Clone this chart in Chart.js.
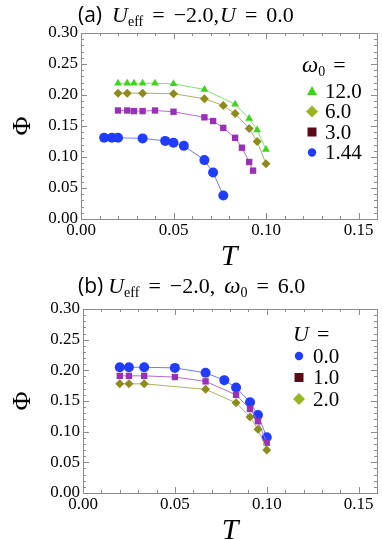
<!DOCTYPE html>
<html>
<head>
<meta charset="utf-8">
<script src="https://cdn.jsdelivr.net/npm/chart.js@4.4.1/dist/chart.umd.min.js"></script>
<style>
  body { margin: 0; background: #fff; }
  .panel { position: relative; width: 382px; }
</style>
</head>
<body>
<div class="panel" style="height:265px"><canvas id="top"></canvas></div>
<div class="panel" style="height:274px"><canvas id="bottom"></canvas></div>
<script>
// panel (a): omega0 series
const tA_w12 = [0.02, 0.025, 0.0286, 0.0333, 0.04, 0.05, 0.0667, 0.0833, 0.0909, 0.0952, 0.1];
const phiA_w12 = [0.219, 0.219, 0.219, 0.219, 0.219, 0.218, 0.209, 0.185, 0.162, 0.1435, 0.112];
const tA_w6 = [0.02, 0.025, 0.0333, 0.05, 0.0667, 0.0769, 0.0833, 0.0909, 0.0952, 0.1];
const phiA_w6 = [0.203, 0.203, 0.203, 0.202, 0.194, 0.183, 0.170, 0.146, 0.125, 0.089];
const tA_w3 = [0.02, 0.025, 0.0286, 0.0333, 0.04, 0.05, 0.0667, 0.0714, 0.0769, 0.0833, 0.087, 0.0909, 0.093];
const phiA_w3 = [0.175, 0.175, 0.174, 0.174, 0.175, 0.173, 0.164, 0.158, 0.147, 0.131, 0.115, 0.092, 0.078];
const tA_w144 = [0.0125, 0.0167, 0.02, 0.0333, 0.0455, 0.05, 0.0556, 0.0667, 0.0714, 0.0769];
const phiA_w144 = [0.131, 0.131, 0.131, 0.130, 0.126, 0.123, 0.118, 0.095, 0.075, 0.038];
const legendA = ['12.0', '6.0', '3.0', '1.44'];

// panel (b): U series
const tB_u0 = [0.02, 0.025, 0.0333, 0.05, 0.0667, 0.0769, 0.0833, 0.0909, 0.0952, 0.1];
const phiB_u0 = [0.205, 0.205, 0.205, 0.204, 0.196, 0.184, 0.172, 0.148, 0.127, 0.091];
const tB_u1 = [0.02, 0.025, 0.0333, 0.05, 0.0667, 0.0833, 0.0909, 0.0952, 0.1];
const phiB_u1 = [0.191, 0.191, 0.191, 0.189, 0.182, 0.160, 0.137, 0.117, 0.082];
const tB_u2 = [0.02, 0.025, 0.0333, 0.0667, 0.0833, 0.0909, 0.0952, 0.1];
const phiB_u2 = [0.178, 0.178, 0.178, 0.169, 0.147, 0.124, 0.104, 0.070];
const legendB = ['0.0', '1.0', '2.0'];

const xTicks = [0, 0.05, 0.1, 0.15];
const yTicks = [0, 0.05, 0.1, 0.15, 0.2, 0.25, 0.3];

const SERIF = '"Liberation Serif", "DejaVu Serif", serif';

function pts(xs, ys) {
  return xs.map((x, i) => ({ x: x, y: ys[i] }));
}

function series(xs, ys, style, fill, line, r) {
  return {
    data: pts(xs, ys),
    showLine: true,
    borderColor: line,
    borderWidth: 1,
    pointStyle: style,
    pointRadius: r,
    pointBackgroundColor: fill,
    pointBorderColor: fill,
    pointBorderWidth: 0,
  };
}

function drawMarker(ctx, style, x, y, color) {
  ctx.fillStyle = color;
  ctx.beginPath();
  if (style === 'circle') {
    ctx.arc(x, y, 4.2, 0, Math.PI * 2);
  } else if (style === 'rect') {
    ctx.rect(x - 4.5, y - 4.5, 9, 9);
  } else if (style === 'rectRot') {
    ctx.moveTo(x, y - 6); ctx.lineTo(x + 6, y); ctx.lineTo(x, y + 6); ctx.lineTo(x - 6, y);
  } else {
    ctx.moveTo(x, y - 5); ctx.lineTo(x + 5, y + 4); ctx.lineTo(x - 5, y + 4);
  }
  ctx.closePath();
  ctx.fill();
}

// frame with inward ticks on all four sides
const framePlugin = {
  id: 'frame',
  beforeDatasetsDraw(chart) {
    const { ctx, chartArea: a, scales } = chart;
    ctx.save();
    ctx.strokeStyle = '#8c8c8c';
    ctx.lineWidth = 1;
    ctx.strokeRect(a.left + 0.5, a.top + 0.5, a.right - a.left, a.bottom - a.top);
    ctx.beginPath();
    for (let i = 0; i <= 16; i++) {
      const px = Math.round(scales.x.getPixelForValue(i / 100)) + 0.5;
      const len = i % 5 === 0 ? 6 : 3;
      ctx.moveTo(px, a.bottom); ctx.lineTo(px, a.bottom - len);
      ctx.moveTo(px, a.top); ctx.lineTo(px, a.top + len);
    }
    for (let i = 0; i <= 30; i++) {
      const py = Math.round(scales.y.getPixelForValue(i / 100)) + 0.5;
      const len = i % 5 === 0 ? 6 : 3;
      ctx.moveTo(a.left, py); ctx.lineTo(a.left + len, py);
      ctx.moveTo(a.right, py); ctx.lineTo(a.right - len, py);
    }
    ctx.stroke();
    ctx.restore();
  }
};

function drawRich(ctx, parts, x, y) {
  for (const p of parts) {
    ctx.font = p.f;
    ctx.fillText(p.t, x, y + (p.dy || 0));
    x += ctx.measureText(p.t).width + (p.gap || 0);
  }
}

const titlePlugin = {
  id: 'richTitle',
  afterDraw(chart, args, opts) {
    const ctx = chart.ctx;
    ctx.save();
    ctx.fillStyle = '#000';
    ctx.textBaseline = 'alphabetic';
    drawRich(ctx, opts.parts, opts.x, opts.y);
    ctx.restore();
  }
};

const legendPlugin = {
  id: 'innerLegend',
  afterDraw(chart, args, opts) {
    const ctx = chart.ctx;
    ctx.save();
    ctx.fillStyle = '#000';
    ctx.textBaseline = 'alphabetic';
    drawRich(ctx, opts.head, opts.x, opts.y);
    opts.items.forEach((it, i) => {
      const yy = opts.y0 + i * opts.dy;
      drawMarker(ctx, it.style, opts.mx, yy, it.color);
      ctx.fillStyle = '#000';
      ctx.font = '21px ' + SERIF;
      ctx.textBaseline = 'middle';
      ctx.fillText(it.label, opts.tx, yy + 1);
    });
    ctx.restore();
  }
};

function makeChart(id, datasets, xHeight, yWidth, pad, title, legend) {
  return new Chart(document.getElementById(id).getContext('2d'), {
    type: 'scatter',
    data: { datasets: datasets },
    plugins: [framePlugin, titlePlugin, legendPlugin],
    options: {
      responsive: true,
      maintainAspectRatio: false,
      animation: false,
      layout: { padding: pad },
      plugins: {
        legend: { display: false },
        tooltip: { enabled: false },
        richTitle: title,
        innerLegend: legend,
      },
      scales: {
        x: {
          type: 'linear',
          min: 0, max: 0.16,
          grid: { display: false, drawTicks: false },
          border: { display: false },
          afterBuildTicks: s => { s.ticks = xTicks.map(v => ({ value: v })); },
          afterFit: s => { s.height = xHeight; },
          ticks: {
            padding: 1, color: '#000', maxRotation: 0,
            font: { family: SERIF, size: 17 },
            callback: v => v.toFixed(2),
          },
          title: {
            display: true, text: 'T', color: '#000',
            font: { family: SERIF, size: 30, style: 'italic', lineHeight: 0.75 },
            padding: { top: 0, bottom: -3 },
          },
        },
        y: {
          type: 'linear',
          min: 0, max: 0.3,
          grid: { display: false, drawTicks: false },
          border: { display: false },
          afterBuildTicks: s => { s.ticks = yTicks.map(v => ({ value: v })); },
          afterFit: s => { s.width = yWidth; },
          ticks: {
            padding: 3, color: '#000',
            font: { family: SERIF, size: 17 },
            callback: v => v.toFixed(2),
          },
          title: {
            display: true, text: 'Φ', color: '#000',
            font: { family: SERIF, size: 26 },
            padding: { top: 8, bottom: 0 },
          },
        },
      },
    },
  });
}

const mathF = '22px ' + SERIF;
const mathI = 'italic 22px ' + SERIF;
const subF = '14px ' + SERIF;

makeChart('top', [
  series(tA_w12, phiA_w12, 'triangle', '#3fd31c', '#7ee26a', 4.5),
  series(tA_w6, phiA_w6, 'rectRot', '#8b8b1e', '#b0b060', 4.5),
  series(tA_w3, phiA_w3, 'rect', '#9a30b8', '#b46ccc', 4.5),
  series(tA_w144, phiA_w144, 'circle', '#1f3cff', '#6a7cff', 5),
], 46, 81, { top: 33, right: 1, left: 0, bottom: 0 }, {
  x: 78, y: 22,
  parts: [
    { t: '(a)', f: '21px "Open Sans"', gap: 10 },
    { t: 'U', f: mathI }, { t: 'eff', f: subF, dy: 4, gap: 9 },
    { t: '=', f: mathF, gap: 9 }, { t: '−2.0,', f: mathF, gap: 1 },
    { t: 'U', f: mathI, gap: 9 }, { t: '=', f: mathF, gap: 9 }, { t: '0.0', f: mathF },
  ],
}, {
  x: 302, y: 72,
  head: [{ t: 'ω', f: 'italic 23px ' + SERIF }, { t: '0', f: subF, dy: 4, gap: 8 }, { t: '=', f: mathF }],
  mx: 312, tx: 325, y0: 91, dy: 20.5,
  items: [
    { style: 'triangle', color: '#3fd31c', label: legendA[0] },
    { style: 'rectRot', color: '#9ab522', label: legendA[1] },
    { style: 'rect', color: '#5c0a18', label: legendA[2] },
    { style: 'circle', color: '#1f3cff', label: legendA[3] },
  ],
});

makeChart('bottom', [
  series(tB_u2, phiB_u2, 'rectRot', '#8b8b1e', '#b0b060', 4.5),
  series(tB_u1, phiB_u1, 'rect', '#9a30b8', '#b46ccc', 4.5),
  series(tB_u0, phiB_u0, 'circle', '#1f3cff', '#6a7cff', 5),
], 46, 83, { top: 44, right: 0, left: 0, bottom: 0 }, {
  x: 78, y: 28,
  parts: [
    { t: '(b)', f: '21px "Open Sans"', gap: 5 },
    { t: 'U', f: mathI }, { t: 'eff', f: subF, dy: 4, gap: 9 },
    { t: '=', f: mathF, gap: 9 }, { t: '−2.0,', f: mathF, gap: 9 },
    { t: 'ω', f: 'italic 23px ' + SERIF }, { t: '0', f: subF, dy: 4, gap: 9 },
    { t: '=', f: mathF, gap: 9 }, { t: '6.0', f: mathF },
  ],
}, {
  x: 293, y: 76,
  head: [{ t: 'U', f: mathI, gap: 8 }, { t: '=', f: mathF }],
  mx: 299, tx: 313, y0: 91, dy: 21.5,
  items: [
    { style: 'circle', color: '#1f3cff', label: legendB[0] },
    { style: 'rect', color: '#5c0a18', label: legendB[1] },
    { style: 'rectRot', color: '#9ab522', label: legendB[2] },
  ],
});
</script>
</body>
</html>
